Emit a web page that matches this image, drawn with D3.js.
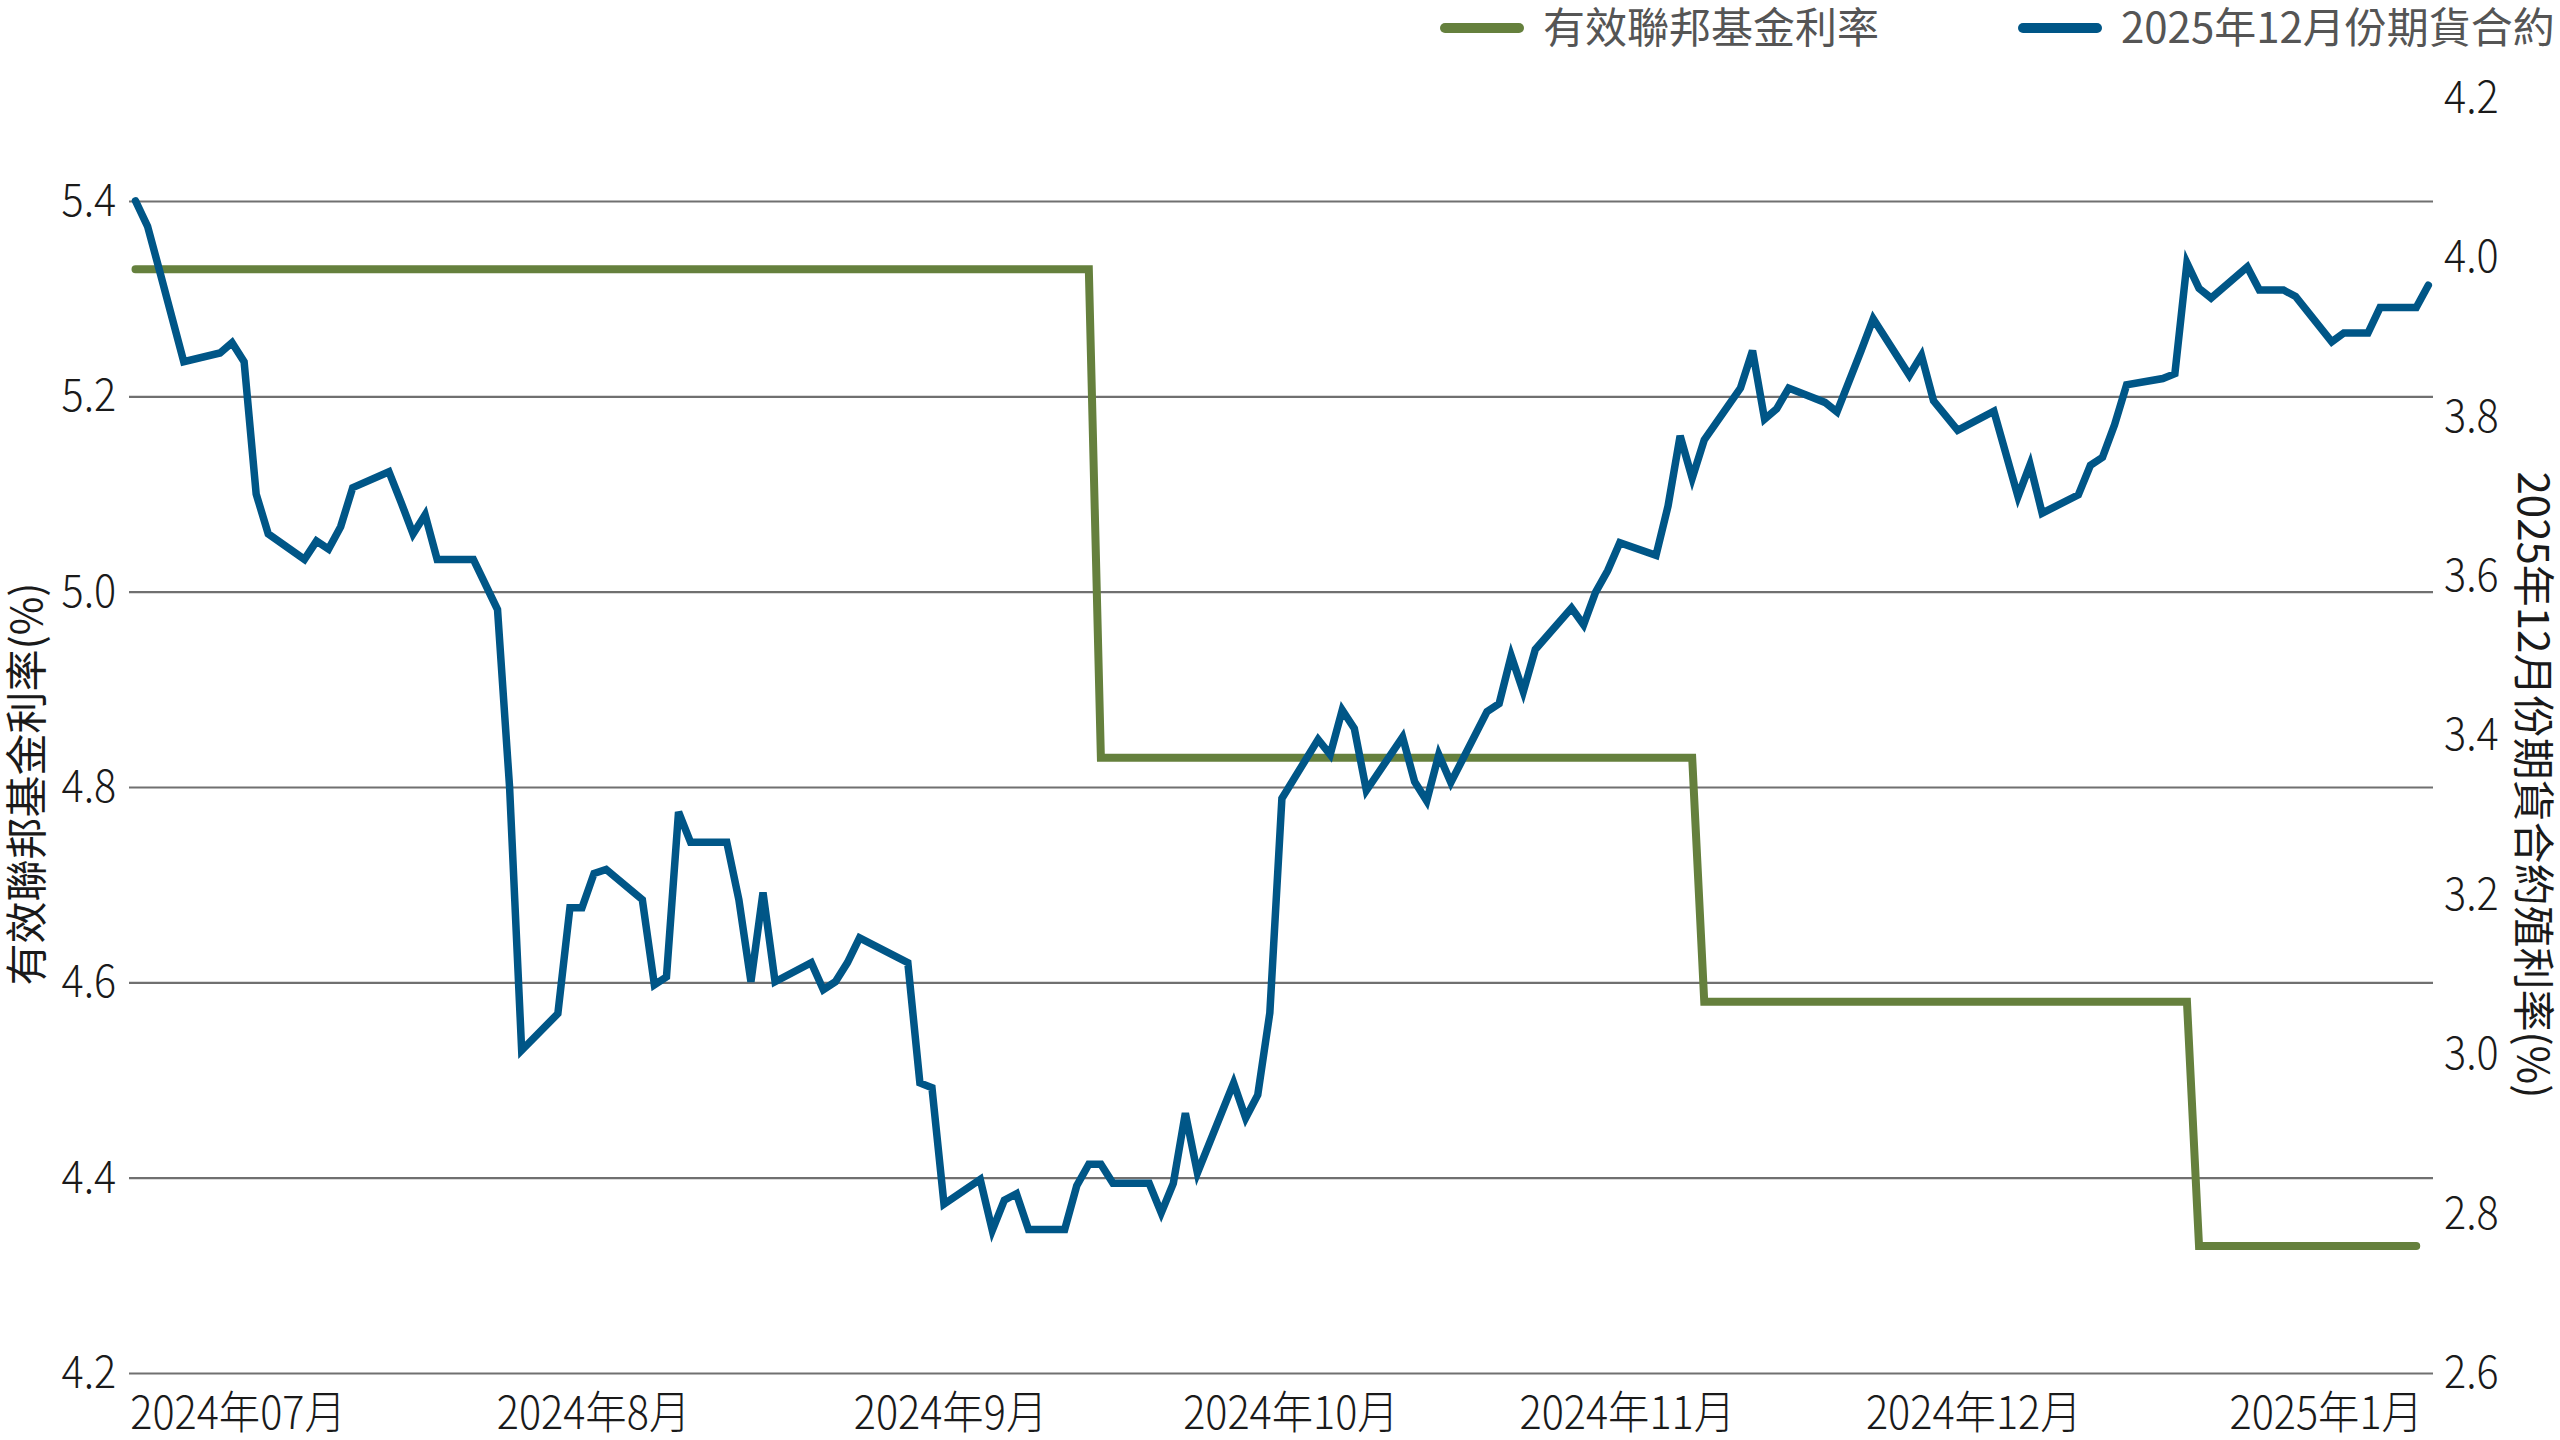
<!DOCTYPE html>
<html>
<head>
<meta charset="utf-8">
<script src="https://cdn.jsdelivr.net/npm/d3@7"></script>
<style>
  body { margin: 0; background: #fff; }
  svg { display: block; }
  text { font-family: 'Noto Sans CJK TC', 'Noto Sans', sans-serif; }
</style>
</head>
<body>
<svg id="chart" width="2560" height="1440"></svg>
<script>
// effective fed funds rate, drawn as steps between the days it changed
const fundsDates = ['2024-07-01', '2024-09-18', '2024-09-19', '2024-11-07', '2024-11-08', '2024-12-18', '2024-12-19', '2025-01-06']
const fundsValues = [5.33, 5.33, 4.83, 4.83, 4.58, 4.58, 4.33, 4.33]

// Dec 2025 futures implied yield
const futuresDates = [
  '2024-07-01', '2024-07-02', '2024-07-03', '2024-07-05', '2024-07-08', '2024-07-09', '2024-07-10', '2024-07-11', '2024-07-12',
  '2024-07-15', '2024-07-16', '2024-07-17', '2024-07-18', '2024-07-19', '2024-07-22', '2024-07-23', '2024-07-24', '2024-07-25',
  '2024-07-26', '2024-07-29', '2024-07-31', '2024-08-01', '2024-08-02', '2024-08-05', '2024-08-06', '2024-08-07', '2024-08-08',
  '2024-08-09', '2024-08-12', '2024-08-13', '2024-08-14', '2024-08-15', '2024-08-16', '2024-08-19', '2024-08-20', '2024-08-21',
  '2024-08-22', '2024-08-23', '2024-08-26', '2024-08-27', '2024-08-28', '2024-08-29', '2024-08-30', '2024-09-03', '2024-09-04',
  '2024-09-05', '2024-09-06', '2024-09-09', '2024-09-10', '2024-09-11', '2024-09-12', '2024-09-13', '2024-09-16', '2024-09-17',
  '2024-09-18', '2024-09-19', '2024-09-20', '2024-09-23', '2024-09-24', '2024-09-25', '2024-09-26', '2024-09-27', '2024-09-30',
  '2024-10-01', '2024-10-02', '2024-10-03', '2024-10-04', '2024-10-07', '2024-10-08', '2024-10-09', '2024-10-10', '2024-10-11',
  '2024-10-14', '2024-10-15', '2024-10-16', '2024-10-17', '2024-10-18', '2024-10-21', '2024-10-22', '2024-10-23', '2024-10-24',
  '2024-10-25', '2024-10-28', '2024-10-29', '2024-10-30', '2024-10-31', '2024-11-01', '2024-11-04', '2024-11-05', '2024-11-06',
  '2024-11-07', '2024-11-08', '2024-11-11', '2024-11-12', '2024-11-13', '2024-11-14', '2024-11-15', '2024-11-18', '2024-11-19',
  '2024-11-21', '2024-11-22', '2024-11-25', '2024-11-26', '2024-11-27', '2024-11-29', '2024-12-02', '2024-12-04', '2024-12-05',
  '2024-12-06', '2024-12-09', '2024-12-10', '2024-12-11', '2024-12-12', '2024-12-13', '2024-12-16', '2024-12-17', '2024-12-18',
  '2024-12-19', '2024-12-20', '2024-12-23', '2024-12-24', '2024-12-26', '2024-12-27', '2024-12-30', '2024-12-31', '2025-01-02',
  '2025-01-03', '2025-01-06', '2025-01-07'
]
const futuresValues = [
  4.071, 4.039, 3.983, 3.869, 3.880, 3.893, 3.869, 3.703, 3.653,
  3.621, 3.644, 3.634, 3.662, 3.711, 3.731, 3.693, 3.653, 3.677,
  3.621, 3.621, 3.558, 3.335, 3.005, 3.051, 3.184, 3.184, 3.227,
  3.232, 3.194, 3.087, 3.097, 3.304, 3.266, 3.266, 3.194, 3.091,
  3.203, 3.091, 3.115, 3.081, 3.091, 3.115, 3.146, 3.115, 2.964,
  2.958, 2.812, 2.843, 2.779, 2.817, 2.825, 2.780, 2.780, 2.835,
  2.862, 2.862, 2.838, 2.838, 2.801, 2.838, 2.926, 2.851, 2.964,
  2.920, 2.949, 3.052, 3.321, 3.395, 3.376, 3.432, 3.409, 3.331,
  3.398, 3.342, 3.318, 3.376, 3.341, 3.430, 3.440, 3.500, 3.455,
  3.508, 3.560, 3.539, 3.580, 3.607, 3.642, 3.626, 3.688, 3.776,
  3.723, 3.771, 3.836, 3.883, 3.797, 3.810, 3.836, 3.818, 3.806,
  3.883, 3.923, 3.852, 3.877, 3.820, 3.783, 3.807, 3.700, 3.740,
  3.679, 3.702, 3.739, 3.749, 3.790, 3.840, 3.848, 3.854, 3.993,
  3.961, 3.949, 3.988, 3.959, 3.959, 3.951, 3.894, 3.905, 3.905,
  3.937, 3.937, 3.965
]

const leftTicks = [4.2, 4.4, 4.6, 4.8, 5.0, 5.2, 5.4]
const rightTicks = [2.6, 2.8, 3.0, 3.2, 3.4, 3.6, 3.8, 4.0, 4.2]
const monthTickDates = ['2024-07-09T11:00', '2024-08-07T22:00', '2024-09-06T12:00', '2024-10-04T17:00', '2024-11-01T14:00', '2024-11-30T07:00', '2024-12-29T12:00']
const monthTickLabels = ['2024年07月', '2024年8月', '2024年9月', '2024年10月', '2024年11月', '2024年12月', '2025年1月']
const seriesNames = ['有效聯邦基金利率', '2025年12月份期貨合約']
const axisTitles = ['有效聯邦基金利率(%)', '2025年12月份期貨合約殖利率(%)']
const colors = ['#65803d', '#005687']

const parseDay = d3.timeParse('%Y-%m-%d')
const parseHour = d3.timeParse('%Y-%m-%dT%H:%M')

let svg = d3.select('#chart')
const gridLeft = 129
const gridRight = 2433
const bottom = 1373
const narrow = 'scale(0.92,1)'

let funds = fundsDates.map((d, i) => ({date: parseDay(d), value: fundsValues[i]}))
let futures = futuresDates.map((d, i) => ({date: parseDay(d), value: futuresValues[i]}))

let x = d3.scaleTime()
  .domain(d3.extent(futures, d => d.date))
  .range([135.5, 2428.3])
let yLeft = d3.scaleLinear().domain([4.2, 5.4]).range([bottom, 201])
let yRight = d3.scaleLinear().domain([2.6, 4.2]).range([bottom, 98])

// tick labels are set light and a little narrow, like the original
function styleTicks (g) {
  g.select('.domain').remove()
  g.selectAll('text')
    .attr('font-size', 45)
    .attr('font-weight', 300)
    .attr('fill', '#1a1a1a')
    .attr('transform', narrow)
}

// left axis draws the gridlines
let leftAxis = svg.append('g')
  .attr('transform', 'translate(' + gridLeft + ',0)')
  .call(d3.axisLeft(yLeft)
    .tickValues(leftTicks)
    .tickSize(-(gridRight - gridLeft))
    .tickPadding(14)
    .tickFormat(d3.format('.1f')))
  .call(styleTicks)
leftAxis.selectAll('line').attr('stroke', '#707070').attr('stroke-width', 2.2)

svg.append('g')
  .attr('transform', 'translate(' + gridRight + ',0)')
  .call(d3.axisRight(yRight)
    .tickValues(rightTicks)
    .tickSize(0)
    .tickPadding(12)
    .tickFormat(d3.format('.1f')))
  .call(styleTicks)

svg.append('g')
  .attr('transform', 'translate(0,' + bottom + ')')
  .call(d3.axisBottom(x)
    .tickValues(monthTickDates.map(parseHour))
    .tickSize(0)
    .tickPadding(24)
    .tickFormat((d, i) => monthTickLabels[i]))
  .call(styleTicks)

svg.append('text')
  .attr('transform', 'translate(27,784) rotate(-90)')
  .attr('text-anchor', 'middle')
  .attr('dy', '0.35em')
  .attr('font-size', 42)
  .attr('fill', '#1a1a1a')
  .text(axisTitles[0])

svg.append('text')
  .attr('transform', 'translate(2533,785) rotate(90)')
  .attr('text-anchor', 'middle')
  .attr('dy', '0.35em')
  .attr('font-size', 42)
  .attr('fill', '#1a1a1a')
  .text(axisTitles[1])

let fundsLine = d3.line().x(d => x(d.date)).y(d => yLeft(d.value))
let futuresLine = d3.line().x(d => x(d.date)).y(d => yRight(d.value))

svg.append('path')
  .datum(funds)
  .attr('fill', 'none')
  .attr('stroke', colors[0])
  .attr('stroke-width', 8)
  .attr('stroke-linecap', 'round')
  .attr('d', fundsLine)

svg.append('path')
  .datum(futures)
  .attr('fill', 'none')
  .attr('stroke', colors[1])
  .attr('stroke-width', 7.5)
  .attr('stroke-linecap', 'round')
  .attr('d', futuresLine)

// legend
const legendX = [1445, 2023]
let legend = svg.append('g').attr('transform', 'translate(0,28)')
seriesNames.forEach((name, i) => {
  legend.append('line')
    .attr('x1', legendX[i]).attr('x2', legendX[i] + 74)
    .attr('stroke', colors[i])
    .attr('stroke-width', 10)
    .attr('stroke-linecap', 'round')
  legend.append('text')
    .attr('x', legendX[i] + 98)
    .attr('dy', '0.35em')
    .attr('font-size', 42)
    .attr('fill', '#555555')
    .text(name)
})
</script>
</body>
</html>
